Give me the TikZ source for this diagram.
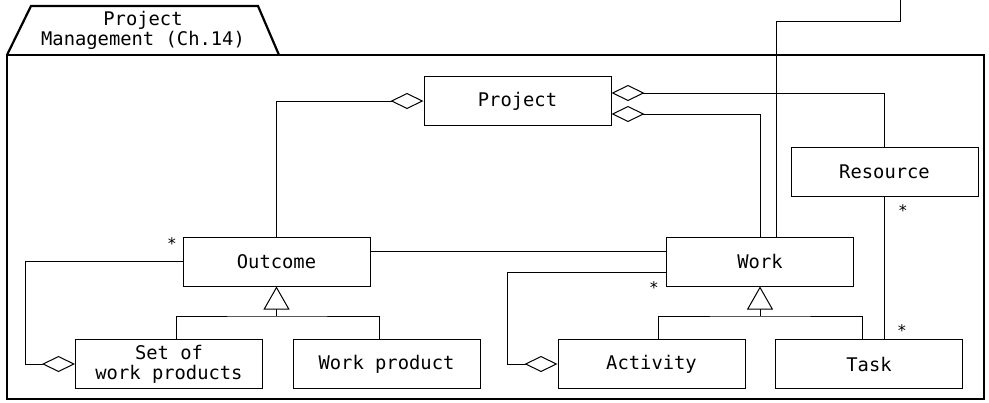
\documentclass[tikz,border=0pt]{standalone}
\usepackage{fontspec}
\newfontfamily\umlfont{DejaVu Sans Mono}
\usetikzlibrary{arrows.meta}

\begin{document}
\begin{tikzpicture}[x=0.5pt,y=-0.5pt,
   cls/.style={draw, line width=0.5pt, inner sep=0pt, minimum width=93.5pt, minimum height=24.5pt, font=\umlfont\fontsize{9.4}{10}\selectfont, align=center},
   lnk/.style={line width=0.5pt},
   agg/.style={lnk, -{Diamond[open,length=16.5pt,width=8pt]}},
   gen/.style={lnk, -{Triangle[open,length=11.5pt,width=13pt]}},
   mult/.style={inner sep=0pt, font=\umlfont\fontsize{8}{8}\selectfont}]

   \useasboundingbox (0,0) rectangle (989,402);
% Paket mit Reiter
   \draw[line width=1.1pt] (7,55) rectangle (984,399);
   \draw[line width=1.1pt] (7,55) -- (31,6) -- (258,6) -- (279,55);
   \node[align=center, font=\umlfont\fontsize{9.4}{10}\selectfont] (pkg) at (143,30) {Project\\Management (Ch.14)};

% Klassen
   \node[cls] (proj) at (517.5,101) {Project};
   \node[cls] (res)  at (884.5,171.5) {Resource};
   \node[cls] (out)  at (276.5,261.5) {Outcome};
   \node[cls] (work) at (760,261.5) {Work};
   \node[cls] (set)  at (169,364) {Set of\\work products};
   \node[cls] (wp)   at (386.5,364) {Work product};
   \node[cls] (act)  at (651.5,364) {Activity};
   \node[cls] (task) at (869,364) {Task};

% Hilfspunkte
   \coordinate (ol) at (25,0);
   \coordinate (wl) at (507,0);
   \coordinate (oj) at (276.5,316);
   \coordinate (wj) at (760,316);
   \coordinate (bend) at (900,21);
   \coordinate (ext) at (900,0);

% Aggregationen
   \draw[agg] (out.north) |- (proj.west);
   \draw[agg] (res.north) |- ([yshift=4pt]proj.east);
   \draw[agg] (work.north) |- ([yshift=-6.5pt]proj.east);
   \draw[agg] (out.west) -- (out.west -| ol) |- (set.west);
   \draw[agg] ([yshift=-5.5pt]work.west) -- ([yshift=-5.5pt]work.west -| wl) |- (act.west);

% Assoziationen
   \draw[lnk] ([yshift=5pt]out.east) -- ([yshift=5pt]work.west);
   \draw[lnk] (res.south) -- (res.south |- task.north);
   \draw[lnk] ([xshift=8pt]work.north) |- (bend) -- (ext);

% Generalisierungen
   \draw[gen] (oj) -- (out.south);
   \draw[lnk] ([xshift=3.5pt]set.north) |- (oj) -| ([xshift=-3.5pt]wp.north);
   \draw[gen] (wj) -- (work.south);
   \draw[lnk] ([xshift=3.5pt]act.north) |- (wj) -| ([xshift=-3.5pt]task.north);

% Multiplizitaeten
   \node[mult] (m1) at (172,244) {*};
   \node[mult] (m2) at (654,288) {*};
   \node[mult] (m3) at (903,211) {*};
   \node[mult] (m4) at (902,331) {*};

\end{tikzpicture}
\end{document}
